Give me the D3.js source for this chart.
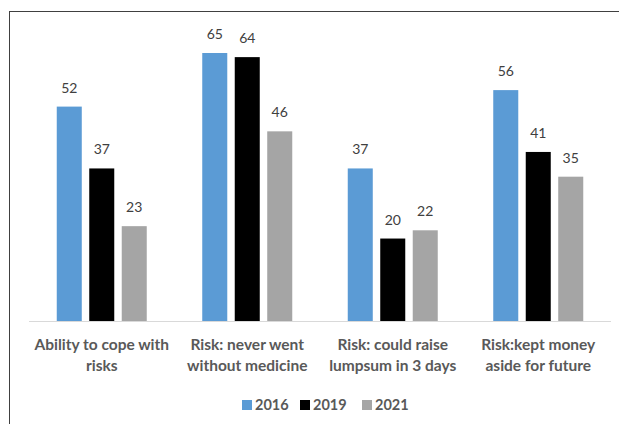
<!DOCTYPE html>
<html><head><meta charset="utf-8">
<script src="https://cdn.jsdelivr.net/npm/d3@7"></script>
<style>body{margin:0;background:#fff}svg{display:block}</style>
</head><body>
<svg id="c" width="619" height="424"></svg>
<script>
const categories = [["Ability to cope with","risks"],["Risk: never went","without medicine"],["Risk: could raise","lumpsum in 3 days"],["Risk:kept money","aside for future"]];
const seriesNames = ["2016","2019","2021"];
const values2016 = [52,65,37,56];
const values2019 = [37,64,20,41];
const values2021 = [23,46,22,35];
const colors = ["#5B9BD5","#000000","#A5A5A5"];

const svg = d3.select("#c");
const font = "'Source Sans Pro', Lato, 'Open Sans', sans-serif";
svg.append("rect").attr("x",9.5).attr("y",11.5).attr("width",640).attr("height",440)
  .attr("fill","none").attr("stroke","#404040").attr("stroke-width",1);

const left=29, right=611, base=321;
const x0 = d3.scaleBand().domain(d3.range(categories.length)).range([left,right]);
const x1 = d3.scaleBand().domain(seriesNames).range([0,90]).paddingInner(0.23);
const y = d3.scaleLinear().domain([0,65]).range([base,53]);

svg.append("line").attr("x1",left).attr("x2",right).attr("y1",base+0.5).attr("y2",base+0.5)
  .attr("stroke","#D9D9D9").attr("stroke-width",1);

const series = [values2016,values2019,values2021];
const g = svg.append("g");
categories.forEach((c,i)=>{
  const cx = x0(i)+x0.bandwidth()/2;
  seriesNames.forEach((s,j)=>{
    const v = series[j][i];
    const bx = cx-45+x1(s);
    g.append("rect").attr("x",bx).attr("y",y(v)).attr("width",x1.bandwidth()).attr("height",base-y(v)).attr("fill",colors[j]);
    g.append("text").attr("x",bx+x1.bandwidth()/2).attr("y",y(v)-14).attr("text-anchor","middle")
      .attr("font-family",font).attr("font-size",14).attr("fill","#404040").text(v);
  });
  c.forEach((line,k)=>{
    g.append("text").attr("x",cx).attr("y",350+k*21).attr("text-anchor","middle")
      .attr("font-family",font).attr("font-size",15.5).attr("font-weight","bold").attr("fill","#595959").text(line);
  });
});

const legX=[242,300,362];
seriesNames.forEach((s,j)=>{
  svg.append("rect").attr("x",legX[j]).attr("y",400).attr("width",10).attr("height",10).attr("fill",colors[j]);
  svg.append("text").attr("x",legX[j]+13).attr("y",410).attr("font-family",font).attr("font-size",14.5)
    .attr("font-weight","bold").attr("fill","#595959").text(s);
});
</script>
</body></html>
